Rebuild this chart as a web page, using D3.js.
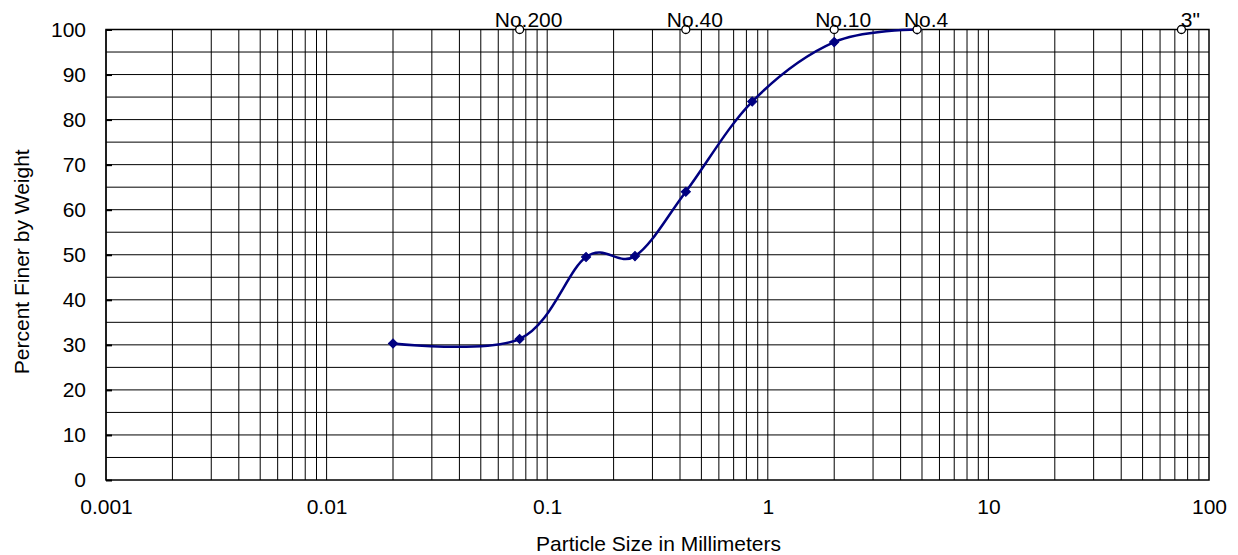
<!DOCTYPE html>
<html>
<head>
<meta charset="utf-8">
<script src="https://cdn.jsdelivr.net/npm/d3@7"></script>
<style>
  html, body { margin: 0; padding: 0; background: #fff; }
  svg { display: block; font-family: "Liberation Sans", Arial, sans-serif; }
</style>
</head>
<body>
<svg id="chart" width="1238" height="555"></svg>
<script>
// ---- Data ----
const particleSize = [0.02, 0.075, 0.15, 0.25, 0.425, 0.85, 2.0, 4.75];
const percentFiner = [30.3, 31.3, 49.5, 49.7, 64.0, 84.0, 97.2, 100];

const sieveNames = ["No.200", "No.40", "No.10", "No.4", "3\""];
const sieveSizes = [0.075, 0.425, 2.0, 4.75, 75];
const sieveY = [100, 100, 100, 100, 100];

const xTickValues = [0.001, 0.01, 0.1, 1, 10, 100];
const xTickLabels = ["0.001", "0.01", "0.1", "1", "10", "100"];
const yTickValues = [0, 10, 20, 30, 40, 50, 60, 70, 80, 90, 100];

const xTitle = "Particle Size in Millimeters";
const yTitle = "Percent Finer by Weight";

// ---- Layout ----
const plot = { left: 106, right: 1209, top: 29.5, bottom: 480 };
const FONT = 21;

const svg = d3.select("#chart");
const x = d3.scaleLog().domain([0.001, 100]).range([plot.left, plot.right]);
const y = d3.scaleLinear().domain([0, 100]).range([plot.bottom, plot.top]);

// Grid: vertical lines at each 1..9 x 10^k
const vGrid = [];
for (let k = -3; k < 2; k++) {
  for (let m = 1; m <= 9; m++) vGrid.push(m * Math.pow(10, k));
}
const hGrid = d3.range(5, 100, 5);

const grid = svg.append("g");
grid.selectAll("line.v").data(vGrid).enter().append("line")
  .attr("x1", d => x(d)).attr("x2", d => x(d))
  .attr("y1", plot.top).attr("y2", plot.bottom)
  .attr("stroke", "#000").attr("stroke-width", 1);
grid.selectAll("line.h").data(hGrid).enter().append("line")
  .attr("x1", plot.left).attr("x2", plot.right)
  .attr("y1", d => y(d)).attr("y2", d => y(d))
  .attr("stroke", "#000").attr("stroke-width", 1);

// Frame
svg.append("rect")
  .attr("x", plot.left).attr("y", plot.top)
  .attr("width", plot.right - plot.left).attr("height", plot.bottom - plot.top)
  .attr("fill", "none").attr("stroke", "#000").attr("stroke-width", 1.5);

// Y axis
const yAxis = d3.axisLeft(y).tickValues(yTickValues).tickSize(-6).tickPadding(20);
const gy = svg.append("g").attr("transform", `translate(${plot.left},0)`).call(yAxis);
gy.select(".domain").remove();
gy.selectAll(".tick line").attr("stroke", "#000").attr("stroke-width", 2);
gy.selectAll(".tick text").attr("font-size", FONT).attr("fill", "#000")
  .attr("font-family", "Liberation Sans, Arial, sans-serif");

// X axis
const xAxis = d3.axisBottom(x).tickValues(xTickValues)
  .tickFormat((d, i) => xTickLabels[i]).tickSize(0).tickPadding(19);
const gx = svg.append("g").attr("transform", `translate(0,${plot.bottom})`).call(xAxis);
gx.select(".domain").remove();
gx.selectAll(".tick text").attr("font-size", FONT).attr("fill", "#000")
  .attr("font-family", "Liberation Sans, Arial, sans-serif");

// Titles
svg.append("text")
  .attr("x", (plot.left + plot.right) / 2 + 1).attr("y", 551)
  .attr("text-anchor", "middle").attr("font-size", FONT).attr("fill", "#000")
  .text(xTitle);
svg.append("text")
  .attr("transform", `translate(29,${(plot.top + plot.bottom) / 2 + 7}) rotate(-90)`)
  .attr("text-anchor", "middle").attr("font-size", FONT).attr("fill", "#000")
  .text(yTitle);

// Gradation curve
const pts = particleSize.map((d, i) => [d, percentFiner[i]]);
const line = d3.line().x(d => x(d[0])).y(d => y(d[1])).curve(d3.curveCardinal.tension(0));
svg.append("path").datum(pts)
  .attr("d", line).attr("fill", "none")
  .attr("stroke", "#000080").attr("stroke-width", 2.5);

// Diamond markers (square rotated 45 degrees)
const diamond = d3.symbol().type(d3.symbolSquare).size(42);
svg.selectAll("path.mk").data(pts).enter().append("path")
  .attr("transform", d => `translate(${x(d[0])},${y(d[1])}) rotate(45)`)
  .attr("d", diamond).attr("fill", "#000080").attr("stroke", "#000080").attr("stroke-width", 1);

// Sieve markers (open circles) and labels
const sieves = sieveSizes.map((d, i) => ({ s: d, v: sieveY[i], name: sieveNames[i] }));
svg.selectAll("circle.sv").data(sieves).enter().append("circle")
  .attr("cx", d => x(d.s)).attr("cy", d => y(d.v)).attr("r", 4)
  .attr("fill", "#fff").attr("stroke", "#000").attr("stroke-width", 1.3);
svg.selectAll("text.sv").data(sieves).enter().append("text")
  .attr("x", d => x(d.s) + 9).attr("y", d => y(d.v) - 3)
  .attr("text-anchor", "middle").attr("font-size", FONT).attr("fill", "#000")
  .text(d => d.name);
</script>
</body>
</html>
